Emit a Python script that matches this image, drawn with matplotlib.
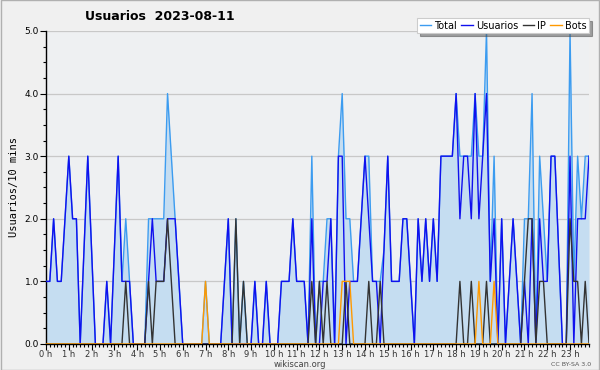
import matplotlib
matplotlib.use("Agg")
import matplotlib.pyplot as plt
import numpy as np

# values per 10 minutes, 144 slots from 0 h to 23 h 50
usuarios = [1, 1, 2, 1, 1, 2, 3, 2, 2, 0, 1.5, 3, 1.5, 0, 0, 0, 1, 0, 1.5, 3,
            1, 1, 1, 0, 0, 0, 0, 1, 2, 1, 1, 1, 2, 2, 2, 1, 0, 0, 0, 0,
            0, 0, 0, 0, 0, 0, 0, 1, 2, 0, 0, 0, 0, 0, 0, 1, 0, 0, 1, 0,
            0, 0, 1, 1, 1, 2, 1, 1, 1, 0, 2, 0, 0, 1, 1, 2, 0, 3, 3, 0,
            1, 1, 1, 2, 3, 2, 1, 1, 0, 1.5, 3, 1, 1, 1, 2, 2, 1, 0, 2, 1,
            2, 1, 2, 1, 3, 3, 3, 3, 4, 2, 3, 3, 2, 4, 2, 3, 4, 1, 2, 0,
            2, 0, 1, 2, 1, 0, 1, 0, 2, 0, 2, 1, 1, 3, 3, 1.5, 0, 0, 3, 0,
            2, 2, 2, 3]
ip = [0, 0, 0, 0, 0, 0, 0, 0, 0, 0, 0, 0, 0, 0, 0, 0, 0, 0, 0, 0,
      0, 1, 0, 0, 0, 0, 0, 1, 0, 1, 1, 1, 2, 1, 0, 0, 0, 0, 0, 0,
      0, 0, 0, 0, 0, 0, 0, 0, 0, 0, 2, 0, 1, 0, 0, 0, 0, 0, 0, 0,
      0, 0, 0, 0, 0, 0, 0, 0, 0, 0, 1, 0, 1, 0, 1, 0, 0, 0, 0, 1,
      0, 0, 0, 0, 0, 1, 0, 0, 1, 0, 0, 0, 0, 0, 0, 0, 0, 0, 0, 0,
      0, 0, 0, 0, 0, 0, 0, 0, 0, 1, 0, 0, 1, 0, 0, 0, 1, 0, 0, 0,
      0, 0, 0, 0, 0, 0, 1, 2, 2, 0, 1, 1, 0, 0, 0, 0, 0, 0, 2, 1,
      1, 0, 1, 0]
bots = [0] * 42 + [1] + [0] * 35 + [1, 1, 1] + [0] * 33 + [1] + [0] * 3 + [1] + [0] * 25
total = [1, 1, 2, 1, 1, 2, 3, 2, 2, 0, 1.5, 3, 1.5, 0, 0, 0, 1, 0, 1.5, 3,
         1, 2, 1, 0, 0, 0, 0, 2, 2, 2, 2, 2, 4, 3, 2, 1, 0, 0, 0, 0,
         0, 0, 1, 0, 0, 0, 0, 1, 2, 0, 2, 0, 1, 0, 0, 1, 0, 0, 1, 0,
         0, 0, 1, 1, 1, 2, 1, 1, 1, 0, 3, 0, 1, 1, 2, 2, 0, 3, 4, 2,
         2, 1, 1, 2, 3, 3, 1, 1, 1, 1.5, 3, 1, 1, 1, 2, 2, 1, 0, 2, 1,
         2, 1, 2, 1, 3, 3, 3, 3, 4, 3, 3, 3, 3, 4, 3, 3, 5, 1, 3, 0,
         2, 0, 1, 2, 1, 0, 2, 2, 4, 0, 3, 2, 1, 3, 3, 1.5, 0, 0, 5, 1,
         3, 2, 3, 3]
hour_labels = [f"{h} h" for h in range(24)]

slots = np.arange(len(total))

fig = plt.figure(figsize=(6, 3.7), dpi=100, facecolor="#f0f0f0")
ax = fig.add_axes([0.0767, 0.0703, 0.905, 0.846])
ax.set_facecolor("#eef0f2")

ax.fill_between(slots, total, 0, color="#c5ddf1", linewidth=0, zorder=1)
ax.plot(slots, total, color="#3c9cf0", lw=1.0, label="Total", zorder=3)
ax.plot(slots, usuarios, color="#1010ee", lw=1.0, label="Usuarios", zorder=4)
ax.plot(slots, ip, color="#333333", lw=1.0, label="IP", zorder=5)
ax.plot(slots, bots, color="#ff9900", lw=1.0, label="Bots", zorder=6)

ax.set_xlim(0, 143)
ax.set_ylim(0, 5)
ax.set_yticks(np.arange(0, 5.01, 1))
ax.set_yticklabels([f"{v:.1f}" for v in range(6)], fontsize=6.5)
ax.set_yticks(np.arange(0, 5.01, 0.25), minor=True)
ax.set_xticks(np.arange(0, 144, 6))
ax.set_xticklabels(hour_labels, fontsize=6)
ax.set_xticks(slots, minor=True)
ax.tick_params(axis="both", which="major", length=4, width=0.8, pad=1, colors="black")
ax.tick_params(axis="both", which="minor", length=2.5, width=0.8)
ax.tick_params(axis="x", labelcolor="#333333", pad=0.5)
ax.grid(axis="y", color="#c8c8c8", lw=0.9, zorder=0)
ax.set_axisbelow(True)
for side in ["top", "right"]:
    ax.spines[side].set_visible(False)
ax.spines["left"].set_linewidth(1.0)
ax.spines["bottom"].set_linewidth(1.0)

ax.set_ylabel("Usuarios/10 mins", fontsize=7.5, family="DejaVu Sans Mono", labelpad=4)
fig.text(0.142, 0.955, "Usuarios  2023-08-11", fontsize=9, fontweight="bold", va="center")
fig.text(0.5, 0.014, "wikiscan.org", fontsize=6, color="#444444", ha="center", va="center")
fig.text(0.985, 0.014, "CC BY-SA 3.0", fontsize=4.5, color="#555555", ha="right", va="center")

leg = ax.legend(loc="upper right", bbox_to_anchor=(1.0, 1.04), ncol=4, fontsize=7,
                frameon=True, fancybox=False, shadow=True, handlelength=1.2,
                handletextpad=0.3, columnspacing=0.45, borderpad=0.25, borderaxespad=0)
leg.get_frame().set_edgecolor("#cccccc")
leg.get_frame().set_linewidth(0.8)
leg.set_zorder(10)

# outer border
fig.patches.append(plt.Rectangle((0.001, 0.001), 0.998, 0.998, transform=fig.transFigure,
                                 fill=False, edgecolor="#b0b0b0", lw=1.0))

fig.savefig("out.png", dpi=100, facecolor=fig.get_facecolor())
